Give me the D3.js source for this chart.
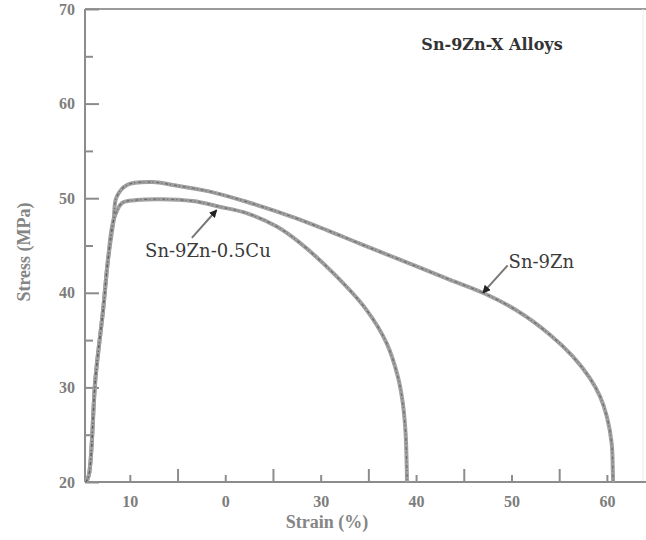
<!DOCTYPE html>
<html>
<head>
<meta charset="utf-8">
<script src="https://cdn.jsdelivr.net/npm/d3@7"></script>
<style>
  body { margin: 0; background: #fff; }
  svg { display: block; }
  .tickLabel { font-family: "Liberation Serif", serif; font-size: 16px; fill: #7d7d7d; font-weight: bold; }
  .axisLabel { font-family: "Liberation Serif", serif; font-size: 18px; fill: #858585; font-weight: bold; }
  .note { font-family: "DejaVu Serif", serif; font-size: 18px; fill: #3a3a3a; }
  .chartTitle { font-family: "DejaVu Serif", serif; font-size: 16px; fill: #333; font-weight: bold; }
</style>
</head>
<body>
<div id="plotSect"></div>
<script>
/* global d3 */

// data: strain (%) and stress (MPa)

let znStrain = [5.4, 5.7, 6.4, 7.2, 7.7, 8.3, 8.6, 9.7, 12.4, 14.5, 18.4, 22.3, 27.1, 30.7, 34.1, 38.3, 43.5, 47.0, 50.6, 54.0, 56.4, 58.2, 59.3, 60.0, 60.5, 60.62, 60.65];
let znStress = [20.0, 20.7, 31.0, 38.2, 43.4, 47.7, 50.1, 51.4, 51.7, 51.4, 50.7, 49.6, 48.0, 46.6, 45.2, 43.5, 41.4, 40.0, 38.1, 35.6, 33.3, 31.0, 29.0, 26.9, 24.1, 21.3, 20.0];

let cuStrain = [5.4, 5.7, 6.4, 7.2, 7.7, 8.3, 9.2, 10.7, 13.2, 16.6, 19.4, 22.3, 25.4, 27.8, 31.3, 34.8, 36.9, 38.1, 38.6, 38.9, 39.02, 39.05];
let cuStress = [20.0, 20.7, 31.0, 38.2, 43.4, 47.7, 49.5, 49.8, 49.9, 49.7, 49.1, 48.4, 47.0, 45.3, 42.1, 38.2, 34.7, 31.1, 28.4, 25.2, 21.6, 20.0];

let xMajorTicks = [10, 20, 30, 40, 50, 60];
let xTickLabels = ["10", "0", "30", "40", "50", "60"];
let xMinorTicks = [15, 25, 35, 45, 55];
let yMajorTicks = [20, 30, 40, 50, 60, 70];
let yMinorTicks = [25, 35, 45, 55, 65];

// label, arrow tail (strain, stress), arrow tip (strain, stress), text anchor point
let noteNames = ["Sn-9Zn-0.5Cu", "Sn-9Zn"];
let noteTail = [[16.5, 45.8], [49.6, 42.9]];
let noteTip = [[19.1, 48.75], [47.0, 40.0]];
let noteText = [[11.6, 44.4], [49.7, 43.3]];

// Initial chart setup //

let SVGwidth = 646,
SVGheight = 540,
margin = {top: 9, right: 0, bottom: 58, left: 85},
width = SVGwidth - margin.left - margin.right,
height = SVGheight - margin.top - margin.bottom;

let root = d3.select("#plotSect").append("svg")
    .attr("width", SVGwidth)
    .attr("height", SVGheight);

let defs = root.append("defs");
defs.append("marker")
    .attr("id", "arrow")
    .attr("viewBox", "0 0 10 10")
    .attr("refX", 9)
    .attr("refY", 5)
    .attr("markerWidth", 4)
    .attr("markerHeight", 4)
    .attr("orient", "auto")
    .append("path")
    .attr("d", "M0,0 L10,5 L0,10 z")
    .style("fill", "#222");

let svg = root.append("g")
    .attr("transform", "translate(" + margin.left + "," + margin.top + ")");

let xScale = d3.scaleLinear().domain([5.3, 64.1]).range([0, width]);
let yScale = d3.scaleLinear().domain([20, 70]).range([height, 0]);

// frame lines
svg.append("line")
    .attr("x1", 0).attr("x2", width)
    .attr("y1", 0).attr("y2", 0)
    .style("stroke", "#9a9a9a").style("stroke-width", 2);

svg.append("line")
    .attr("x1", width - 3).attr("x2", width - 3)
    .attr("y1", 0).attr("y2", height)
    .style("stroke", "#ececec").style("stroke-width", 1);

// x axis: labelled ticks short, between ticks tall
let xAxisMajor = d3.axisBottom(xScale)
    .tickValues(xMajorTicks)
    .tickSize(-7)
    .tickPadding(14)
    .tickFormat(function(d, i) { return xTickLabels[i]; });

let xAxisMinor = d3.axisBottom(xScale)
    .tickValues(xMinorTicks)
    .tickSize(-13)
    .tickFormat("");

svg.append("g")
    .attr("class", "xAxis")
    .attr("transform", "translate(0," + height + ")")
    .call(xAxisMajor);
svg.append("g")
    .attr("class", "xAxis")
    .attr("transform", "translate(0," + height + ")")
    .call(xAxisMinor);

let yAxisMajor = d3.axisLeft(yScale)
    .tickValues(yMajorTicks)
    .tickSize(-14)
    .tickPadding(10)
    .tickFormat(d3.format("d"));

let yAxisMinor = d3.axisLeft(yScale)
    .tickValues(yMinorTicks)
    .tickSize(-8)
    .tickFormat("");

svg.append("g").attr("class", "yAxis").call(yAxisMajor);
svg.append("g").attr("class", "yAxis").call(yAxisMinor);

svg.selectAll(".xAxis, .yAxis").attr("font-family", null).attr("font-size", null);
svg.selectAll(".xAxis path, .yAxis path")
    .style("stroke", "#8c8c8c").style("stroke-width", 2);
svg.selectAll(".xAxis line, .yAxis line")
    .style("stroke", "#8c8c8c").style("stroke-width", 2);
svg.selectAll(".xAxis text, .yAxis text")
    .attr("class", "tickLabel");
svg.selectAll(".yAxis .domain").attr("d", "M0," + height + "V0");
svg.selectAll(".xAxis .domain").attr("d", "M0,0H" + width);

// axis titles
svg.append("text")
    .attr("class", "axisLabel")
    .attr("transform", "translate(" + (327 - margin.left) + "," + (528 - margin.top) + ")")
    .style("text-anchor", "middle")
    .text("Strain (%)");

svg.append("text")
    .attr("class", "axisLabel")
    .attr("transform", "translate(" + (30 - margin.left) + "," + (252 - margin.top) + ") rotate(-90)")
    .style("text-anchor", "middle")
    .text("Stress (MPa)");

svg.append("text")
    .attr("class", "chartTitle")
    .attr("x", 492 - margin.left)
    .attr("y", 50 - margin.top)
    .style("text-anchor", "middle")
    .text("Sn-9Zn-X Alloys");

// curves
let curveLine = d3.line()
    .x(function(d) { return xScale(d[0]); })
    .y(function(d) { return yScale(d[1]); })
    .curve(d3.curveCatmullRom.alpha(0.5));

let series = [d3.zip(znStrain, znStress), d3.zip(cuStrain, cuStress)];

svg.selectAll(".curve")
    .data(series)
    .enter().append("path")
    .attr("class", "curve")
    .attr("d", curveLine)
    .style("fill", "none")
    .style("stroke", "#a0a0a0")
    .style("stroke-width", 4);

svg.selectAll(".curveCore")
    .data(series)
    .enter().append("path")
    .attr("class", "curveCore")
    .attr("d", curveLine)
    .style("fill", "none")
    .style("stroke", "#555")
    .style("stroke-width", 1.2)
    .style("stroke-dasharray", "3,2,1,3")
    .style("opacity", 0.7);

// arrows and labels
svg.selectAll(".noteArrow")
    .data(noteNames)
    .enter().append("line")
    .attr("class", "noteArrow")
    .attr("x1", function(d, i) { return xScale(noteTail[i][0]); })
    .attr("y1", function(d, i) { return yScale(noteTail[i][1]); })
    .attr("x2", function(d, i) { return xScale(noteTip[i][0]); })
    .attr("y2", function(d, i) { return yScale(noteTip[i][1]); })
    .style("stroke", "#777")
    .style("stroke-width", 2)
    .attr("marker-end", "url(#arrow)");

svg.selectAll(".noteText")
    .data(noteNames)
    .enter().append("text")
    .attr("class", "note")
    .attr("x", function(d, i) { return xScale(noteText[i][0]); })
    .attr("y", function(d, i) { return yScale(noteText[i][1]); })
    .attr("dy", "0.35em")
    .style("text-anchor", "start")
    .text(function(d) { return d; });
</script>
</body>
</html>
